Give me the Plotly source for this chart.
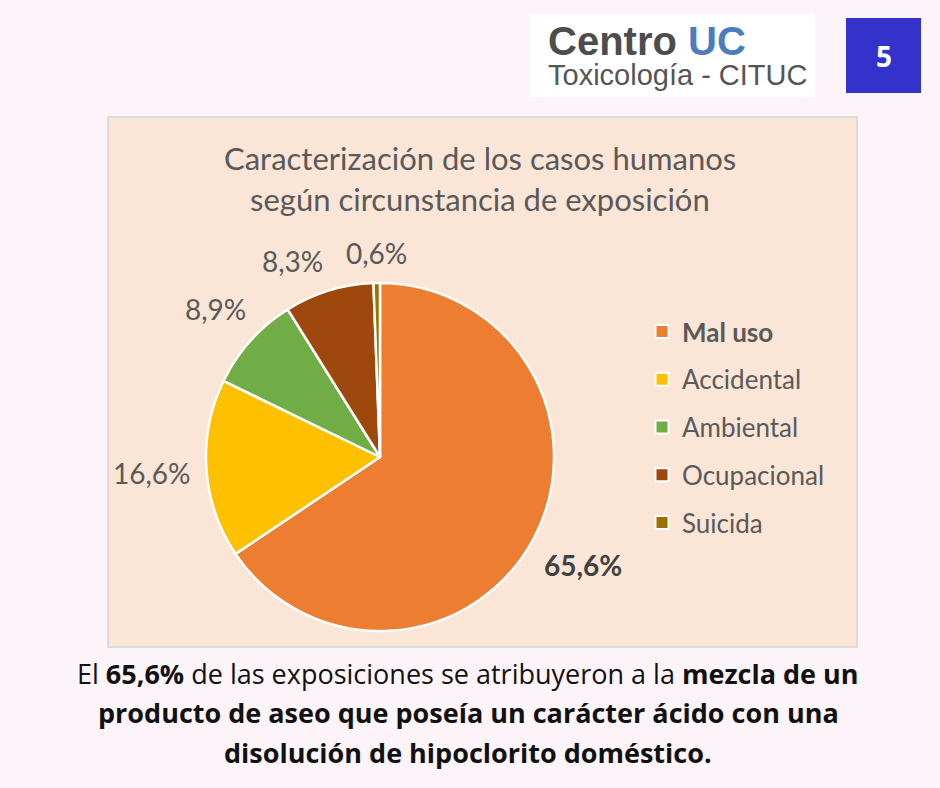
import math
import plotly.graph_objects as go

W, H = 940, 788

# data
categorias = ["Mal uso", "Accidental", "Ambiental", "Ocupacional", "Suicida"]
porcentajes = [65.6, 16.6, 8.9, 8.3, 0.6]
colores = ["#ED7D31", "#FFC000", "#70AD47", "#9E480E", "#997300"]

titulo = ["Caracterización de los casos humanos",
          "según circunstancia de exposición"]
pie_texto = [
    "El <b>65,6%</b> de las exposiciones se atribuyeron a la <b>mezcla de un</b>",
    "<b>producto de aseo que poseía un carácter ácido con una</b>",
    "<b>disolución de hipoclorito doméstico.</b>",
]


def px(x):
    return x / W


def py(y):
    return 1 - y / H


fig = go.Figure()

# pie itself
cx, cy, r = 380, 457, 174
fig.add_trace(go.Pie(
    labels=categorias,
    values=porcentajes,
    sort=False,
    direction="clockwise",
    rotation=0,
    marker=dict(colors=colores, line=dict(color="white", width=2.5)),
    textinfo="none",
    showlegend=False,
    hoverinfo="label+percent",
    domain=dict(x=[px(cx - r), px(cx + r)], y=[py(cy + r), py(cy - r)]),
))

# legend entries (one per category so spacing can be set)
for nombre, color in zip(categorias, colores):
    etiqueta = f"<b>{nombre}</b>" if nombre == "Mal uso" else nombre
    fig.add_trace(go.Scatter(
        x=[None], y=[None], mode="markers", name=etiqueta,
        legendgroup=nombre,
        marker=dict(symbol="square", size=13, color=color,
                    line=dict(color="white", width=2)),
    ))

shapes = [
    # chart panel
    dict(type="rect", xref="paper", yref="paper",
         x0=px(108), x1=px(857), y0=py(647), y1=py(117),
         fillcolor="#FBE5D6", line=dict(color="#DCDCDC", width=2), layer="below"),
    # logo box
    dict(type="rect", xref="paper", yref="paper",
         x0=px(530), x1=px(815), y0=py(97), y1=py(14),
         fillcolor="white", line=dict(width=0), layer="below"),
    # page badge
    dict(type="rect", xref="paper", yref="paper",
         x0=px(846), x1=px(921), y0=py(93), y1=py(18),
         fillcolor="#3333CC", line=dict(width=0), layer="below"),
]

annotations = [
    dict(text="<b>Centro <span style='color:#4A7DC0'>UC</span></b>", x=px(546), y=py(41),
         font=dict(family="Liberation Sans", size=40, color="#4D4D4D"),
         xanchor="left", yanchor="middle"),
    dict(text="Toxicología - CITUC", x=px(546), y=py(75),
         font=dict(family="Liberation Sans", size=29, color="#555555"),
         xanchor="left", yanchor="middle"),
    dict(text="<b>5</b>", x=px(884), y=py(56),
         font=dict(family="Open Sans", size=28, color="white"),
         xanchor="center", yanchor="middle"),
]
for i, linea in enumerate(titulo):
    annotations.append(dict(
        text=linea, x=px(480), y=py(158 + 41 * i),
        font=dict(family="Lato", size=31, color="#595959"),
        xanchor="center", yanchor="middle"))

# percentage labels placed just outside each slice, from the cumulative share
total = sum(porcentajes)
mids, acum = [], 0.0
for v in porcentajes:
    mids.append(2 * math.pi * (acum + v / 2) / total)
    acum += v


def label_box(ang, txt):
    s, c = math.sin(ang), -math.cos(ang)
    w, h = 15.2 * len(txt), 26
    d = r + 16 + abs(s) * w / 2 + abs(c) * h / 2
    return cx + s * d, cy + c * d, w, h


textos = [f"{v / total * 100:.1f}%".replace(".", ",") for v in porcentajes]
cajas = [label_box(a, t) for a, t in zip(mids, textos)]
# push crowded labels apart (walk backwards from the last slice)
for i in range(len(cajas) - 2, 0, -1):
    ang = mids[i]
    while True:
        x, y, w, h = cajas[i]
        nx, ny, nw, nh = cajas[i + 1]
        if abs(x - nx) >= (w + nw) / 2 + 22 or abs(y - ny) >= (h + nh) / 2 + 4:
            break
        ang -= 0.01
        cajas[i] = label_box(ang, textos[i])

for i, (txt, (x, y, w, h)) in enumerate(zip(textos, cajas)):
    annotations.append(dict(
        text=f"<b>{txt}</b>" if i == 0 else txt,
        x=px(x), y=py(y),
        font=dict(family="Lato", size=28, color="#404040" if i == 0 else "#595959"),
        xanchor="center", yanchor="middle"))

for i, linea in enumerate(pie_texto):
    annotations.append(dict(
        text=linea, x=px(468), y=py(673 + 39.5 * i),
        font=dict(family="Open Sans", size=27, color="#111111"),
        xanchor="center", yanchor="middle"))
for a in annotations:
    a.update(xref="paper", yref="paper", showarrow=False)

fig.update_layout(
    width=W, height=H,
    margin=dict(l=0, r=0, t=0, b=0),
    paper_bgcolor="#FDF4FA",
    plot_bgcolor="rgba(0,0,0,0)",
    shapes=shapes,
    annotations=annotations,
    xaxis=dict(visible=False),
    yaxis=dict(visible=False),
    legend=dict(
        x=px(642), y=py(308), xanchor="left", yanchor="top",
        font=dict(family="Lato", size=26, color="#595959"),
        bgcolor="rgba(0,0,0,0)", tracegroupgap=11,
        itemclick=False, itemdoubleclick=False,
    ),
)

fig.write_html(
    "out.html",
    config={"displayModeBar": False},
    post_script="document.body.style.margin='0';"
                "document.body.style.background='#FDF4FA';",
)
